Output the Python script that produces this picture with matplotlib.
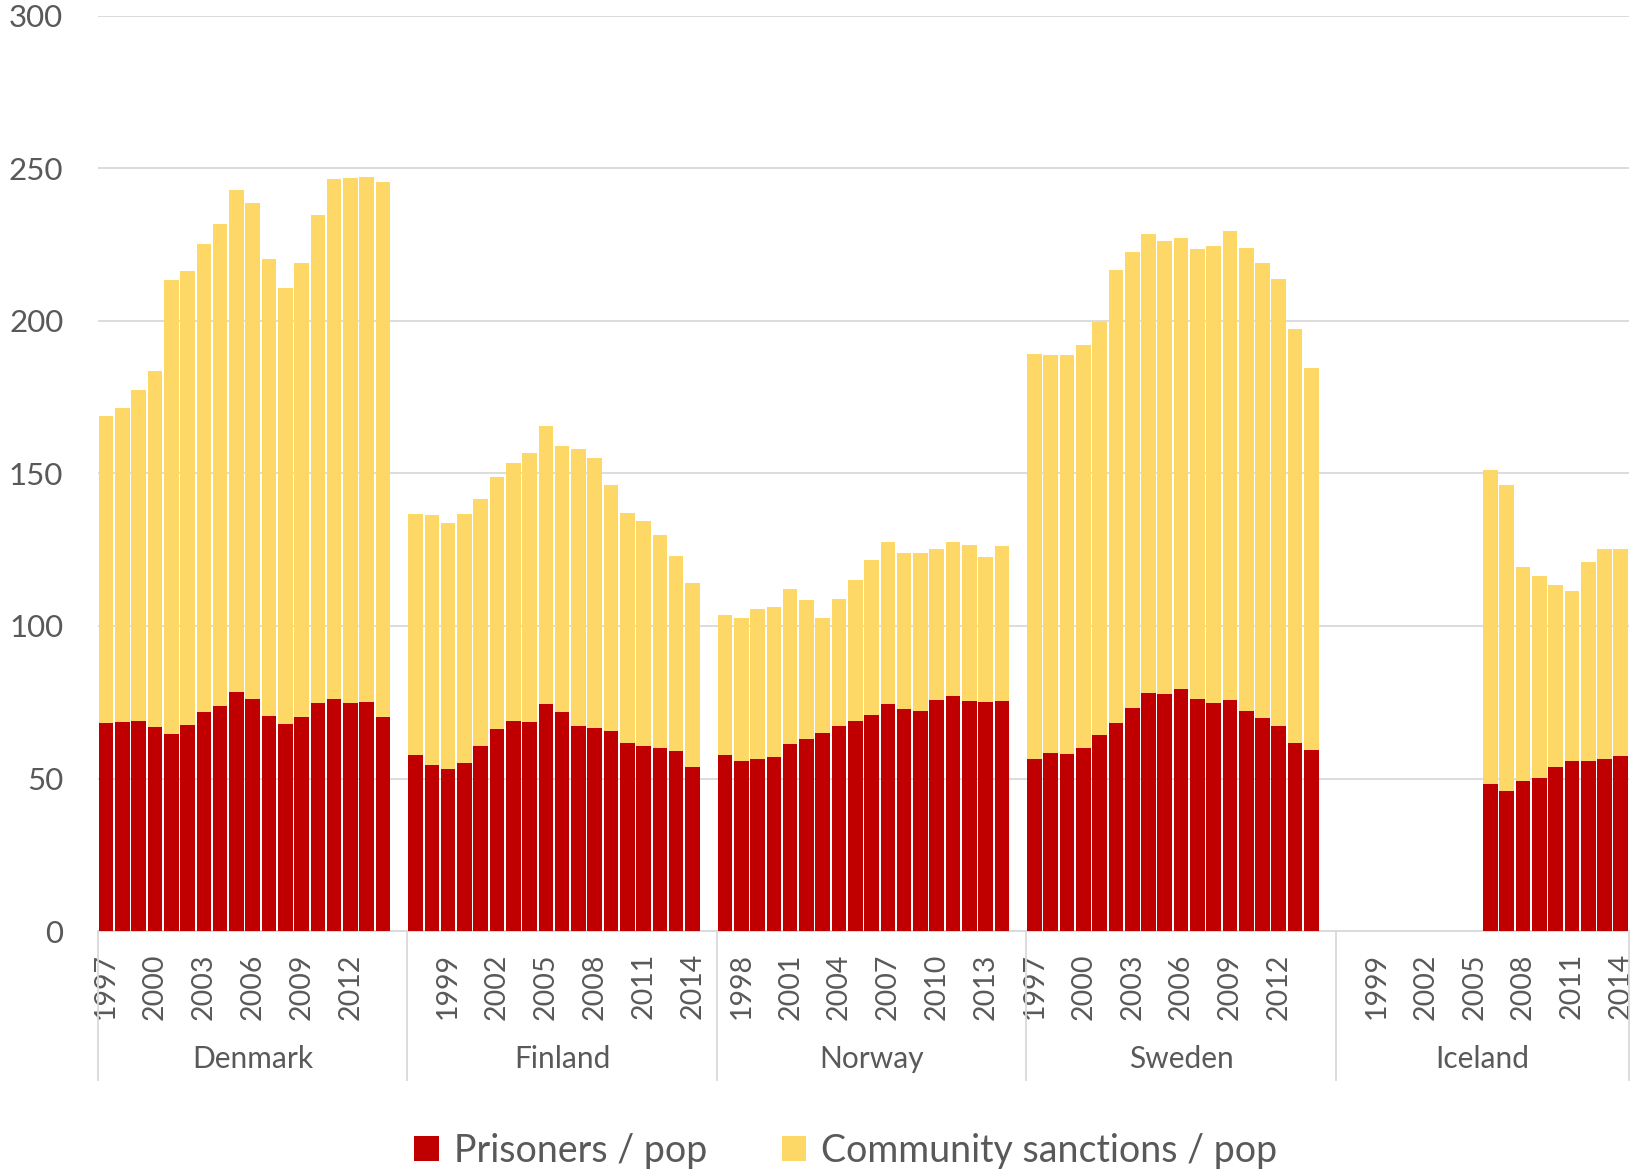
import numpy as np
import matplotlib
matplotlib.use("Agg")
import matplotlib.pyplot as plt
from matplotlib.lines import Line2D
from matplotlib.transforms import blended_transform_factory

plt.rcParams['font.family'] = ['Lato', 'DejaVu Sans']

countries = ["Denmark", "Finland", "Norway", "Sweden", "Iceland"]
years = list(range(1997, 2015))

prisoners_denmark = [68.2, 68.5, 68.9, 67.0, 64.5, 67.5, 71.8, 73.8, 78.2, 76.2, 70.4, 67.8, 70.2, 74.8, 76.2, 74.8, 75.1, 70.3]
community_denmark = [100.6, 103.1, 108.4, 116.7, 148.9, 149.0, 153.5, 158.0, 164.8, 162.6, 149.9, 142.9, 148.8, 159.9, 170.3, 172.2, 172.0, 175.3]

prisoners_finland = [57.8, 54.4, 53.2, 55.1, 60.5, 66.2, 68.8, 68.6, 74.3, 71.9, 67.3, 66.6, 65.5, 61.5, 60.7, 60.0, 59.1, 53.8]
community_finland = [79.0, 82.1, 80.6, 81.6, 81.2, 82.7, 84.5, 88.2, 91.2, 87.0, 90.6, 88.4, 80.7, 75.7, 73.6, 69.9, 63.7, 60.3]

prisoners_norway = [57.6, 55.6, 56.3, 56.9, 61.3, 62.8, 64.9, 67.3, 68.8, 70.8, 74.3, 72.7, 72.0, 75.7, 77.0, 75.3, 75.0, 75.5]
community_norway = [45.9, 47.1, 49.4, 49.2, 50.9, 45.6, 37.7, 41.4, 46.4, 50.8, 53.4, 51.3, 52.0, 49.7, 50.7, 51.3, 47.7, 50.7]

prisoners_sweden = [56.3, 58.3, 58.0, 59.9, 64.2, 68.3, 73.0, 78.1, 77.6, 79.5, 76.0, 74.8, 75.7, 72.1, 69.9, 67.3, 61.7, 59.5]
community_sweden = [133.0, 130.5, 130.8, 132.2, 135.5, 148.4, 149.7, 150.4, 148.5, 147.6, 147.6, 149.8, 153.8, 151.9, 149.0, 146.3, 135.8, 125.2]

prisoners_iceland = [None] * 9 + [48.3, 45.9, 49.2, 50.2, 53.8, 55.7, 55.7, 56.4, 57.4]
community_iceland = [None] * 9 + [102.7, 100.2, 70.2, 66.1, 59.7, 55.7, 65.3, 68.7, 68.0]

prisoners = [prisoners_denmark, prisoners_finland, prisoners_norway, prisoners_sweden, prisoners_iceland]
community = [community_denmark, community_finland, community_norway, community_sweden, community_iceland]
# first four groups carry one extra, empty category at the end
extra_blank = [1, 1, 1, 1, 0]

RED = "#C00000"
YELLOW = "#FDD867"
GRAY = "#595959"
GRID = "#D9D9D9"

# build category sequence
cat_labels = []
pris_all = []
comm_all = []
group_bounds = [-0.5]
for c, p, cm, eb in zip(countries, prisoners, community, extra_blank):
    for y, pv, cv in zip(years, p, cm):
        cat_labels.append(str(y))
        pris_all.append(np.nan if pv is None else pv)
        comm_all.append(np.nan if cv is None else cv)
    for _ in range(eb):
        cat_labels.append("")
        pris_all.append(np.nan)
        comm_all.append(np.nan)
    group_bounds.append(len(cat_labels) - 0.5)

x = np.arange(len(cat_labels))
pris_all = np.array(pris_all, dtype=float)
comm_all = np.array(comm_all, dtype=float)

fig = plt.figure(figsize=(16.33, 11.73), dpi=100)
ax = fig.add_axes([0.060, 0.2063, 0.9375, 0.7801])

ax.bar(x, pris_all, width=0.9, color=RED, label="Prisoners / pop", zorder=3)
ax.bar(x, comm_all, width=0.9, bottom=pris_all, color=YELLOW, label="Community sanctions / pop", zorder=3)

ax.set_xlim(-0.5, len(cat_labels) - 0.5)
ax.set_ylim(0, 300)
ax.set_yticks(np.arange(0, 301, 50))
ax.yaxis.grid(True, color=GRID, linewidth=1.3, zorder=0)
ax.set_axisbelow(True)
ax.tick_params(axis='y', length=0, pad=25, labelsize=22.5, labelcolor=GRAY)

tick_idx = x[::3]
ax.set_xticks(tick_idx)
ax.set_xticklabels([cat_labels[i] for i in tick_idx], rotation=90, va='top', ha='center')
ax.tick_params(axis='x', length=0, pad=16, labelsize=20.5, labelcolor=GRAY)

for s in ["top", "right", "left"]:
    ax.spines[s].set_visible(False)
ax.spines["bottom"].set_color(GRID)
ax.spines["bottom"].set_linewidth(1.3)

trans = blended_transform_factory(ax.transData, ax.transAxes)
for b in group_bounds:
    ax.add_line(Line2D([b, b], [0, -0.163], transform=trans, color=GRID, linewidth=1.3, clip_on=False))
for i, c in enumerate(countries):
    xc = (group_bounds[i] + group_bounds[i + 1]) / 2
    ax.text(xc, -0.1399, c, transform=trans, ha='center', va='center', fontsize=21.5, color=GRAY)

fig.legend(loc='center', bbox_to_anchor=(0.518, 0.019), ncol=2, frameon=False,
           fontsize=27, handlelength=0.65, handleheight=0.65, handletextpad=0.4,
           columnspacing=2.0, labelcolor=GRAY)

fig.savefig("out.png", dpi=100)
